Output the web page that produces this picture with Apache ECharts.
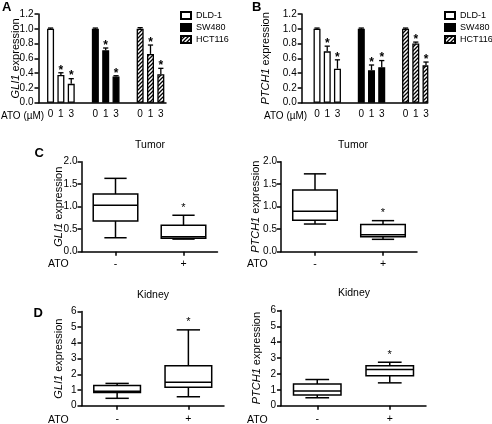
<!DOCTYPE html>
<html><head><meta charset="utf-8">
<script src="https://cdn.jsdelivr.net/npm/echarts@6/dist/echarts.min.js"></script>
<style>html,body{margin:0;padding:0;background:#fff}#c{width:492px;height:424px}</style>
</head><body><div id="c"></div>
<script>
// ---------- data ----------
const cellLines = ['DLD-1', 'SW480', 'HCT116'];
const doses = ['0', '1', '3'];
const gli1Means = [[1.00, 0.375, 0.255], [1.00, 0.71, 0.355], [1.00, 0.66, 0.385]];
const gli1Errs  = [[0.01, 0.03, 0.07], [0.01, 0.03, 0.01], [0.015, 0.12, 0.08]];
const ptch1Means = [[1.00, 0.695, 0.46], [1.00, 0.44, 0.48], [1.00, 0.80, 0.505]];
const ptch1Errs  = [[0.01, 0.07, 0.12], [0.01, 0.07, 0.09], [0.01, 0.02, 0.045]];
const doseSig = [0, 1, 1];
const barTicks = [0, 0.2, 0.4, 0.6, 0.8, 1.0, 1.2];

const boxCats = ['-', '+'];
// [min, Q1, median, Q3, max]
const tumorGli1  = [[0.31, 0.68, 1.03, 1.28, 1.63], [0.28, 0.30, 0.33, 0.59, 0.81]];
const tumorPtch1 = [[0.615, 0.70, 0.90, 1.37, 1.73], [0.275, 0.335, 0.375, 0.605, 0.69]];
const kidneyGli1  = [[0.47, 0.84, 0.92, 1.28, 1.42], [0.57, 1.17, 1.50, 2.54, 4.83]];
const kidneyPtch1 = [[0.50, 0.67, 0.92, 1.36, 1.65], [1.44, 1.88, 2.28, 2.51, 2.74]];
const boxSig = [0, 1];
const tumorTicks = [0, 0.5, 1.0, 1.5, 2.0];
const kidneyTicks = [0, 1, 2, 3, 4, 5, 6];

// ---------- helpers ----------
const FONT = '"Liberation Sans", Arial, Helvetica, sans-serif';
const chart = echarts.init(document.getElementById('c'), null, {renderer: 'canvas'});

const pc = document.createElement('canvas');
pc.width = 4; pc.height = 4;
const g2 = pc.getContext('2d');
g2.fillStyle = '#fff'; g2.fillRect(0, 0, 4, 4);
g2.strokeStyle = '#000'; g2.lineWidth = 1.3;
g2.beginPath();
g2.moveTo(0, 4); g2.lineTo(4, 0);
g2.moveTo(-1, 1); g2.lineTo(1, -1);
g2.moveTo(3, 5); g2.lineTo(5, 3);
g2.stroke();
const hatch = {image: pc, repeat: 'repeat'};

const barStyles = [
  {color: '#fff', borderColor: '#000', borderWidth: 1.3},
  {color: '#000', borderColor: '#000', borderWidth: 1.3},
  {color: hatch, borderColor: '#000', borderWidth: 1.3}
];

function buildSlots(lead, trail) {
  const cats = [], pos = [];
  for (let i = 0; i < lead; i++) cats.push('');
  cellLines.forEach((c, g) => {
    pos.push([]);
    doses.forEach((d, k) => {
      pos[g].push(cats.length);
      cats.push(d);
      if (k < doses.length - 1) { cats.push(''); cats.push(''); }
    });
    if (g < cellLines.length - 1) for (let i = 0; i < 6; i++) cats.push('');
  });
  for (let i = 0; i < trail; i++) cats.push('');
  return {cats, pos};
}
const slotsA = buildSlots(3, 1);
const slotsB = buildSlots(4, 0);

function yAxisOpt(gi, ticks, gene, nameGap, digits, margin) {
  return {
    type: 'value', gridIndex: gi, min: ticks[0], max: ticks[ticks.length - 1],
    interval: ticks[1] - ticks[0],
    name: '{i|' + gene + '} expression', nameLocation: 'middle', nameGap: nameGap, nameRotate: 90,
    nameMoveOverlap: false,
    nameTextStyle: {fontSize: 11, fontFamily: FONT, color: '#000',
      rich: {i: {fontStyle: 'italic', fontSize: 11, fontFamily: FONT, color: '#000'}}},
    axisLine: {show: true, lineStyle: {color: '#000', width: 1.5}},
    axisTick: {show: true, length: 4, lineStyle: {color: '#000', width: 1.5}},
    axisLabel: {fontSize: 10, fontFamily: FONT, color: '#000', margin: margin,
      formatter: v => v.toFixed(digits)},
    splitLine: {show: false}
  };
}
function xBarAxis(gi, cats) {
  return {
    type: 'category', gridIndex: gi, data: cats,
    axisLine: {lineStyle: {color: '#000', width: 1.5}},
    axisTick: {show: false},
    axisLabel: {interval: 0, fontSize: 10, fontFamily: FONT, color: '#000', margin: 7}
  };
}
function xBoxAxis(gi, margin) {
  return {
    type: 'category', gridIndex: gi, data: boxCats,
    axisLine: {lineStyle: {color: '#000', width: 1.5}},
    axisTick: {show: true, alignWithLabel: true, length: 4, lineStyle: {color: '#000', width: 1.5}},
    axisLabel: {interval: 0, fontSize: 10.5, fontFamily: FONT, color: '#000', margin: margin}
  };
}

function errRender(params, api) {
  const x = api.value(0), m = api.value(1), e = api.value(2), s = api.value(3);
  const p0 = api.coord([x, m]), p1 = api.coord([x, m + e]);
  const hw = 2.6;
  const ls = {stroke: '#000', lineWidth: 1.3};
  const ch = [
    {type: 'line', shape: {x1: p0[0], y1: p0[1], x2: p1[0], y2: p1[1]}, style: ls},
    {type: 'line', shape: {x1: p1[0] - hw, y1: p1[1], x2: p1[0] + hw, y2: p1[1]}, style: ls}
  ];
  if (s) ch.push({type: 'text', style: {text: '*', x: p1[0], y: p1[1] - 2.5,
    align: 'center', verticalAlign: 'middle', textAlign: 'center', textVerticalAlign: 'middle',
    font: 'bold 12px ' + FONT, fill: '#000'}});
  return {type: 'group', children: ch};
}
function boxRender(params, api) {
  const x = api.value(0);
  const mn = api.value(1), q1 = api.value(2), md = api.value(3), q3 = api.value(4), mx = api.value(5), s = api.value(6);
  const band = api.size([1, 0])[0];
  const bw = band * 0.655, cw = bw / 2;
  const cx = api.coord([x, md])[0];
  const y = v => api.coord([x, v])[1];
  const ls = {stroke: '#000', lineWidth: 1.5, fill: null};
  const ch = [
    {type: 'line', shape: {x1: cx, y1: y(q3), x2: cx, y2: y(mx)}, style: ls},
    {type: 'line', shape: {x1: cx, y1: y(q1), x2: cx, y2: y(mn)}, style: ls},
    {type: 'line', shape: {x1: cx - cw / 2, y1: y(mx), x2: cx + cw / 2, y2: y(mx)}, style: ls},
    {type: 'line', shape: {x1: cx - cw / 2, y1: y(mn), x2: cx + cw / 2, y2: y(mn)}, style: ls},
    {type: 'rect', shape: {x: cx - bw / 2, y: y(q3), width: bw, height: y(q1) - y(q3)},
      style: {stroke: '#000', lineWidth: 1.5, fill: '#fff'}},
    {type: 'line', shape: {x1: cx - bw / 2, y1: y(md), x2: cx + bw / 2, y2: y(md)}, style: ls}
  ];
  if (s) ch.push({type: 'text', style: {text: '*', x: cx, y: y(mx) - 2,
    align: 'center', verticalAlign: 'bottom', textAlign: 'center', textVerticalAlign: 'bottom',
    font: '11px ' + FONT, fill: '#000'}});
  return {type: 'group', children: ch};
}

// ---------- series ----------
const series = [];
function addBarPanel(gi, slots, means, errs) {
  cellLines.forEach((name, g) => {
    const data = slots.cats.map(() => null);
    slots.pos[g].forEach((p, k) => { data[p] = means[g][k]; });
    series.push({type: 'bar', name: name, xAxisIndex: gi, yAxisIndex: gi, data: data,
      barWidth: 7, barGap: '-100%', itemStyle: barStyles[g], silent: true, animation: false});
  });
  const ed = [];
  cellLines.forEach((name, g) => slots.pos[g].forEach((p, k) => ed.push([p, means[g][k], errs[g][k], doseSig[k]])));
  series.push({type: 'custom', xAxisIndex: gi, yAxisIndex: gi, data: ed, renderItem: errRender,
    encode: {x: 0, y: 1}, z: 5, silent: true, animation: false});
}
addBarPanel(0, slotsA, gli1Means, gli1Errs);
addBarPanel(1, slotsB, ptch1Means, ptch1Errs);

function addBoxPanel(gi, stats) {
  const d = stats.map((st, i) => [i].concat(st).concat([boxSig[i]]));
  series.push({type: 'custom', xAxisIndex: gi, yAxisIndex: gi, data: d, renderItem: boxRender,
    encode: {x: 0, y: [1, 5]}, silent: true, animation: false});
}
addBoxPanel(2, tumorGli1);
addBoxPanel(3, tumorPtch1);
addBoxPanel(4, kidneyGli1);
addBoxPanel(5, kidneyPtch1);

function txt(text, x, y, size, opts) {
  opts = opts || {};
  return {type: 'text', x: x, y: y, silent: true, style: {
    text: text, font: (opts.weight || 'normal') + ' ' + size + 'px ' + FONT, fill: '#000',
    align: opts.align || 'left', verticalAlign: 'middle',
    textAlign: opts.align || 'left', textVerticalAlign: 'middle'}};
}

const legendBase = {
  data: cellLines, orient: 'vertical', icon: 'rect', itemWidth: 10, itemHeight: 7, itemGap: 3,
  selectedMode: false, textStyle: {fontSize: 9, fontFamily: FONT, color: '#000'}, padding: 0
};

chart.setOption({
  animation: false,
  backgroundColor: '#fff',
  grid: [
    {left: 38.5, top: 14, width: 127.5, height: 88.7, outerBoundsMode: 'none'},
    {left: 301.7, top: 14, width: 126, height: 88.7, outerBoundsMode: 'none'},
    {left: 81.5, top: 161.7, width: 136, height: 90, outerBoundsMode: 'none'},
    {left: 281, top: 161.7, width: 136, height: 90, outerBoundsMode: 'none'},
    {left: 81.5, top: 311.5, width: 142.5, height: 94.2, outerBoundsMode: 'none'},
    {left: 281, top: 310.5, width: 145, height: 95.2, outerBoundsMode: 'none'}
  ],
  xAxis: [xBarAxis(0, slotsA.cats), xBarAxis(1, slotsB.cats), xBoxAxis(2, 7), xBoxAxis(3, 7), xBoxAxis(4, 8), xBoxAxis(5, 8)],
  yAxis: [
    yAxisOpt(0, barTicks, 'GLI1', 17, 1, 5),
    yAxisOpt(1, barTicks, 'PTCH1', 30, 1, 5),
    yAxisOpt(2, tumorTicks, 'GLI1', 17, 1, 4),
    yAxisOpt(3, tumorTicks, 'PTCH1', 19.5, 1, 4),
    yAxisOpt(4, kidneyTicks, 'GLI1', 17.5, 0, 5),
    yAxisOpt(5, kidneyTicks, 'PTCH1', 19, 0, 5)
  ],
  legend: [
    Object.assign({left: 180, top: 11}, legendBase),
    Object.assign({left: 444, top: 11}, legendBase)
  ],
  graphic: [
    txt('A', 2, 7, 13, {weight: 'bold'}),
    txt('B', 252, 7, 13, {weight: 'bold'}),
    txt('C', 34.5, 153.5, 13, {weight: 'bold'}),
    txt('D', 33.5, 313.5, 13, {weight: 'bold'}),
    txt('ATO (µM)', 1, 116, 10),
    txt('ATO (µM)', 264, 116, 10),
    txt('Tumor', 150, 145, 10.5, {align: 'center'}),
    txt('Tumor', 353, 145, 10.5, {align: 'center'}),
    txt('Kidney', 153, 295, 10.5, {align: 'center'}),
    txt('Kidney', 354, 293, 10.5, {align: 'center'}),
    txt('ATO', 48, 264, 10.5),
    txt('ATO', 247, 264, 10.5),
    txt('ATO', 48, 420, 10.5),
    txt('ATO', 247, 420, 10.5)
  ],
  series: series
});
</script></body></html>
